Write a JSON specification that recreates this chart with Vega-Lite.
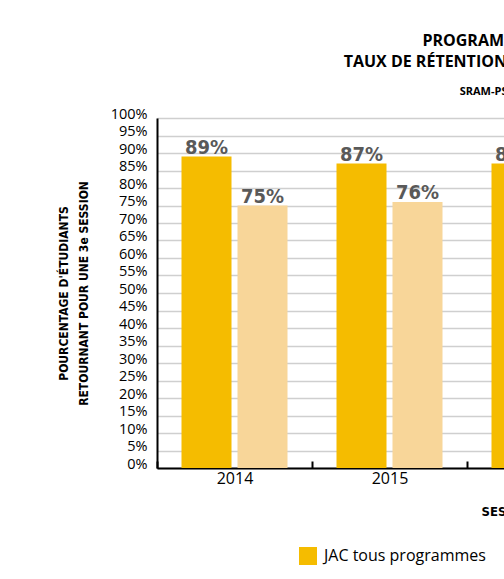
{
  "$schema": "https://vega.github.io/schema/vega-lite/v6.json",
  "width": 465,
  "height": 350,
  "autosize": {"type": "none"},
  "padding": {"left": 157, "top": 118, "right": 0, "bottom": 111},
  "background": "white",
  "title": {
    "text": ["PROGRAMMES TECHNIQUES", "TAUX DE RÉTENTION EN 3e SESSION PAR ANNÉE"],
    "subtitle": "SRAM-PSEP, A2014 À A2016",
    "anchor": "middle",
    "frame": "group",
    "dx": 143,
    "font": "Open Sans",
    "fontSize": 16,
    "fontWeight": "bold",
    "color": "#000000",
    "lineHeight": 21,
    "subtitleFont": "Open Sans",
    "subtitleFontSize": 11,
    "subtitleFontWeight": "bold",
    "subtitleColor": "#000000",
    "subtitlePadding": 16,
    "offset": 9
  },
  "data": {
    "values": [
      {"annee": "2014", "groupe": "JAC tous programmes", "taux": 89},
      {"annee": "2014", "groupe": "Réseau collégial", "taux": 75},
      {"annee": "2015", "groupe": "JAC tous programmes", "taux": 87},
      {"annee": "2015", "groupe": "Réseau collégial", "taux": 76},
      {"annee": "2016", "groupe": "JAC tous programmes", "taux": 87}
    ]
  },
  "transform": [{"calculate": "datum.taux + '%'", "as": "etiquette"}],
  "encoding": {
    "x": {
      "field": "annee",
      "type": "nominal",
      "scale": {"paddingInner": 0, "paddingOuter": 0},
      "axis": {
        "title": "SESSION D'ENTRÉE",
        "titleAnchor": "start",
        "titleX": 324,
        "titleY": 37,
        "titleFont": "DejaVu Sans Condensed",
        "titleFontSize": 13,
        "titleFontWeight": "bold",
        "titleColor": "#000000",
        "labelAngle": 0,
        "labelFont": "Open Sans",
        "labelFontSize": 16,
        "labelColor": "#000000",
        "labelPadding": 9,
        "tickBand": "extent",
        "tickSize": -7,
        "tickColor": "#000000",
        "tickWidth": 2,
        "domainColor": "#000000",
        "domainWidth": 2,
        "grid": false
      }
    },
    "xOffset": {
      "field": "groupe",
      "type": "nominal",
      "scale": {"paddingInner": 0.107, "paddingOuter": 0.4375}
    },
    "y": {
      "field": "taux",
      "type": "quantitative",
      "scale": {"domain": [0, 100]},
      "axis": {
        "title": ["POURCENTAGE D'ÉTUDIANTS", "RETOURNANT POUR UNE 3e SESSION"],
        "titleFont": "DejaVu Sans Condensed",
        "titleFontSize": 12,
        "titleFontWeight": "bold",
        "titleColor": "#000000",
        "titleLineHeight": 20,
        "titlePadding": 20,
        "values": [0,5,10,15,20,25,30,35,40,45,50,55,60,65,70,75,80,85,90,95,100],
        "labelExpr": "datum.value + '%'",
        "labelFont": "Open Sans",
        "labelFontSize": 14.5,
        "labelColor": "#000000",
        "labelBaseline": "alphabetic",
        "labelPadding": 10,
        "ticks": false,
        "domainColor": "#000000",
        "domainWidth": 2,
        "grid": true,
        "gridColor": "#cfcfcf",
        "gridWidth": 1.5
      }
    }
  },
  "layer": [
    {
      "mark": {"type": "bar"},
      "encoding": {
        "color": {
          "field": "groupe",
          "type": "nominal",
          "scale": {"domain": ["JAC tous programmes", "Réseau collégial"], "range": ["#F5BC00", "#F8D699"]},
          "legend": {
            "title": null,
            "orient": "none",
            "direction": "horizontal",
            "legendX": 142,
            "legendY": 429,
            "symbolType": "square",
            "symbolSize": 324,
            "symbolStrokeWidth": 0,
            "labelFont": "Open Sans",
            "labelFontSize": 16,
            "labelColor": "#000000",
            "labelOffset": 7,
            "labelLimit": 400,
            "columnPadding": 30,
            "padding": 0
          }
        }
      }
    },
    {
      "mark": {"type": "text", "baseline": "alphabetic", "dy": -3, "font": "DejaVu Sans Condensed", "fontSize": 20, "fontWeight": "bold", "color": "#595959"},
      "encoding": {
        "text": {"field": "etiquette", "type": "nominal"},
        "detail": {"field": "groupe"}
      }
    }
  ]
}
